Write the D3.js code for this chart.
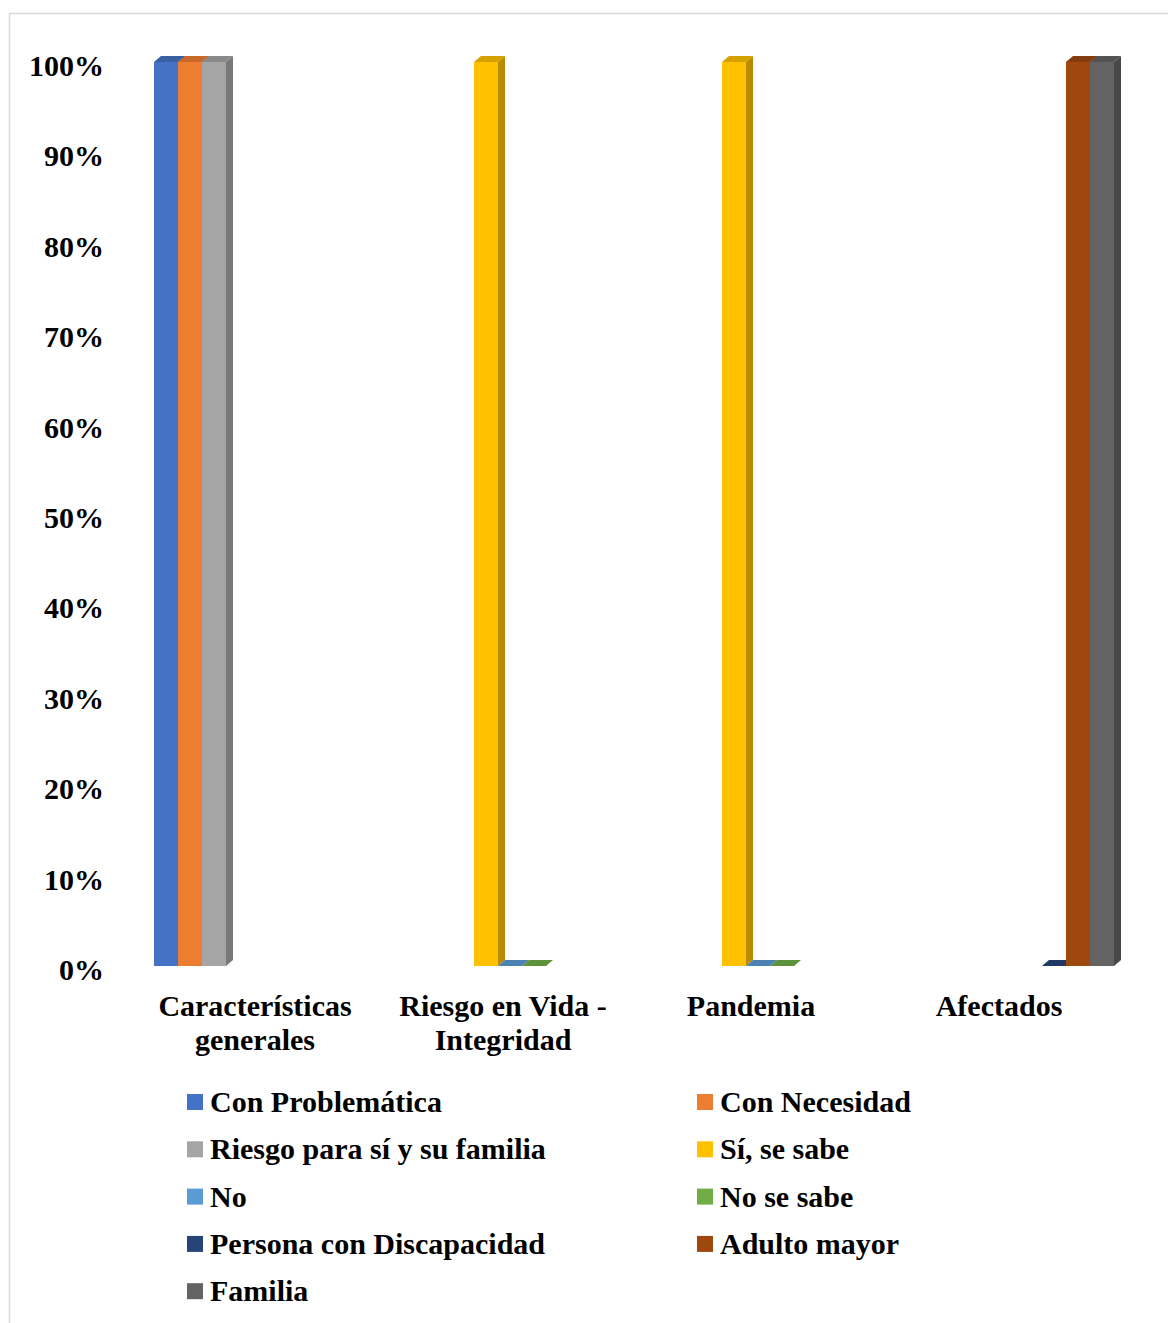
<!DOCTYPE html>
<html><head><meta charset="utf-8">
<script src="https://cdn.jsdelivr.net/npm/d3@7"></script>
<style>body{margin:0;background:#fff}svg{display:block}text{font-family:"Liberation Serif","Times New Roman",serif;font-weight:bold;fill:#000}</style>
</head><body>
<script>
const categories = [["Características","generales"],["Riesgo en Vida -","Integridad"],["Pandemia"],["Afectados"]];
const categoryKeys = ["Características generales","Riesgo en Vida - Integridad","Pandemia","Afectados"];
const seriesNames = ["Con Problemática","Con Necesidad","Riesgo para sí y su familia","Sí, se sabe","No","No se sabe","Persona con Discapacidad","Adulto mayor","Familia"];
const seriesColors = ["#4472C4","#ED7D31","#A5A5A5","#FFC000","#5B9BD5","#70AD47","#264478","#9E480E","#636363"];
// values per series, per category (null = no bar)
const valConProblematica = [1, null, null, null];
const valConNecesidad = [1, null, null, null];
const valRiesgoFamilia = [1, null, null, null];
const valSiSeSabe = [null, 1, 1, null];
const valNo = [null, 0, 0, null];
const valNoSeSabe = [null, 0, 0, null];
const valDiscapacidad = [null, null, null, 0];
const valAdultoMayor = [null, null, null, 1];
const valFamilia = [null, null, null, 1];
const seriesValues = [valConProblematica,valConNecesidad,valRiesgoFamilia,valSiSeSabe,valNo,valNoSeSabe,valDiscapacidad,valAdultoMayor,valFamilia];
const yTicks = [0,0.1,0.2,0.3,0.4,0.5,0.6,0.7,0.8,0.9,1];

const W=1168,H=1323;
const svg=d3.select("body").append("svg").attr("width",W).attr("height",H);
svg.append("path").attr("d","M9.5,1323 V13.5 H1168").attr("fill","none").attr("stroke","#d9d9d9").attr("stroke-width",1.5);

const y=d3.scaleLinear().domain([0,1]).range([966,62]);
const x=d3.scaleBand().domain(categoryKeys).range([131,1123]);
const xs=d3.scaleBand().domain(seriesNames).range([-101,115]);
const dx=7, dy=6;

const fmt=d3.format(".0%");
svg.append("g").selectAll("text").data(yTicks).join("text")
  .attr("x",104).attr("y",d=>y(d)+14).attr("text-anchor","end").attr("font-size",30).text(d=>fmt(d));

const bars=[];
seriesValues.forEach((vals,si)=>vals.forEach((v,ci)=>{ if(v!==null) bars.push({s:seriesNames[si],c:categoryKeys[ci],v,col:seriesColors[si]}); }));
const g=svg.append("g");
bars.forEach(b=>{
  const x0=x(b.c)+x.bandwidth()/2+xs(b.s), x1=x0+xs.bandwidth();
  const yt=y(b.v), yb=y(0);
  const c=d3.color(b.col);
  g.append("path").attr("d",`M${x1},${yt} L${x1+dx},${yt-dy} L${x1+dx},${yb-dy} L${x1},${yb} Z`).attr("fill",c.darker(0.9));
  g.append("path").attr("d",`M${x0},${yt} L${x0+dx},${yt-dy} L${x1+dx},${yt-dy} L${x1},${yt} Z`).attr("fill",c.darker(0.5));
  if(yb-yt>0) g.append("rect").attr("x",x0).attr("y",yt).attr("width",x1-x0).attr("height",yb-yt).attr("fill",b.col);
});

const cl=svg.append("g");
categories.forEach((lines,i)=>{
  const cx=x(categoryKeys[i])+x.bandwidth()/2;
  lines.forEach((t,j)=>cl.append("text").attr("x",cx).attr("y",1016+j*34).attr("text-anchor","middle").attr("font-size",30).text(t));
});

const lg=svg.append("g");
seriesNames.forEach((n,i)=>{
  const col=i%2, row=Math.floor(i/2);
  const lx=col===0?187:697, cy=1102+row*47.3;
  lg.append("rect").attr("x",lx).attr("y",cy-8).attr("width",16).attr("height",16).attr("fill",seriesColors[i]);
  lg.append("text").attr("x",lx+23).attr("y",cy+10).attr("font-size",30).text(n);
});
</script>
</body></html>
